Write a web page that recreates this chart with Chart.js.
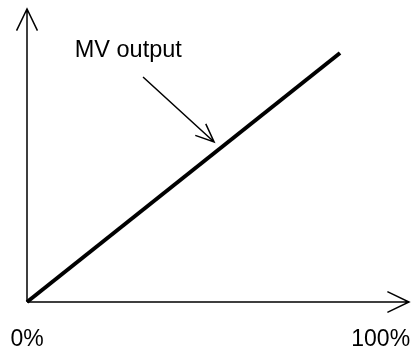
<!DOCTYPE html>
<html>
<head>
<meta charset="utf-8">
<script src="https://cdn.jsdelivr.net/npm/chart.js@4"></script>
<style>
  body { margin: 0; background: #fff; }
  #wrap { width: 413px; height: 351px; }
</style>
</head>
<body>
<div id="wrap"><canvas id="mvChart"></canvas></div>
<script>
// line data (percent of input vs MV output)
const xValues = [0, 88.5];
const yValues = [0, 85];
// tick labels on the x axis
const tickValues = [0, 100];
const tickLabels = ['0%', '100%'];
// annotation
const noteText = 'MV output';
const noteAt = [13.5, 83.5];
const noteArrowFrom = [32.8, 76.8];
const noteArrowTo = [52.9, 54.6];

const FONT = '"Liberation Sans", Arial, sans-serif';

function openArrow(ctx, x1, y1, x2, y2, len, spread) {
    const a = Math.atan2(y2 - y1, x2 - x1);
    ctx.beginPath();
    ctx.moveTo(x1, y1);
    ctx.lineTo(x2, y2);
    ctx.moveTo(x2 - len * Math.cos(a - spread), y2 - len * Math.sin(a - spread));
    ctx.lineTo(x2, y2);
    ctx.lineTo(x2 - len * Math.cos(a + spread), y2 - len * Math.sin(a + spread));
    ctx.stroke();
}

const axesPlugin = {
    id: 'axesArrows',
    beforeDatasetsDraw(chart) {
        const ctx = chart.ctx;
        const area = chart.chartArea;
        const xs = chart.scales.x;
        ctx.save();
        ctx.strokeStyle = '#000';
        ctx.lineWidth = 1.5;
        // y axis
        openArrow(ctx, area.left, area.bottom, area.left, area.top, 24, 0.45);
        // x axis
        openArrow(ctx, area.left, area.bottom, area.right, area.bottom, 24, 0.45);
        // tick labels
        ctx.fillStyle = '#000';
        ctx.font = '23px ' + FONT;
        ctx.textAlign = 'center';
        ctx.textBaseline = 'alphabetic';
        tickValues.forEach((v, i) => {
            ctx.fillText(tickLabels[i], xs.getPixelForValue(v), area.bottom + 44);
        });
        ctx.restore();
    },
    afterDatasetsDraw(chart) {
        const ctx = chart.ctx;
        const xs = chart.scales.x, ys = chart.scales.y;
        ctx.save();
        ctx.fillStyle = '#000';
        ctx.strokeStyle = '#000';
        ctx.font = '23.5px ' + FONT;
        ctx.textBaseline = 'alphabetic';
        ctx.fillText(noteText, xs.getPixelForValue(noteAt[0]), ys.getPixelForValue(noteAt[1]));
        ctx.lineWidth = 1.5;
        openArrow(ctx,
            xs.getPixelForValue(noteArrowFrom[0]), ys.getPixelForValue(noteArrowFrom[1]),
            xs.getPixelForValue(noteArrowTo[0]), ys.getPixelForValue(noteArrowTo[1]), 20, 0.4);
        ctx.restore();
    }
};

new Chart(document.getElementById('mvChart').getContext('2d'), {
    type: 'scatter',
    data: {
        datasets: [{
            data: xValues.map((x, i) => ({ x: x, y: yValues[i] })),
            showLine: true,
            borderColor: '#000',
            borderWidth: 4,
            pointRadius: 0,
            clip: false
        }]
    },
    options: {
        responsive: true,
        maintainAspectRatio: false,
        animation: false,
        layout: { padding: { left: 27, right: 4, top: 9, bottom: 49 } },
        plugins: { legend: { display: false }, tooltip: { enabled: false } },
        scales: {
            x: { type: 'linear', min: 0, max: 108, display: false },
            y: { type: 'linear', min: 0, max: 100, display: false }
        }
    },
    plugins: [axesPlugin]
});
</script>
</body>
</html>
